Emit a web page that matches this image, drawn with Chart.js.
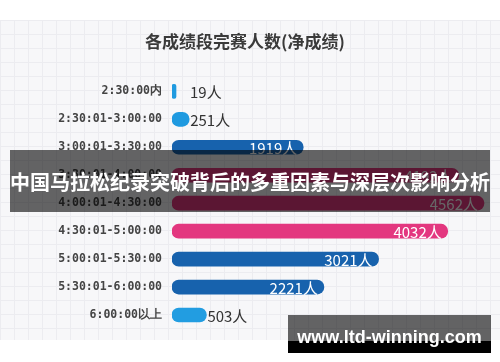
<!DOCTYPE html>
<html>
<head>
<meta charset="utf-8">
<script src="https://cdn.jsdelivr.net/npm/chart.js@4"></script>
<style>
  html, body { margin: 0; padding: 0; background: #fff; }
  #wrap { position: relative; width: 500px; height: 362px; overflow: hidden; }
  #paper {
    position: absolute; left: 0; top: 20px; width: 500px; height: 320px;
    background-color: #f7f7f9;
    background-image:
      linear-gradient(to right, #ececf0 1px, transparent 1px),
      linear-gradient(to bottom, #ececf0 1px, transparent 1px);
    background-size: 14px 14px;
  }
  canvas { position: absolute; left: 0; top: 0; }
  #banner {
    position: absolute; left: 10px; top: 150px; width: 480px; height: 62px;
    background: rgba(0, 0, 0, 0.6); color: #fff;
    font: bold 20px "Noto Sans CJK SC", sans-serif;
    display: flex; align-items: center; justify-content: center; white-space: nowrap;
  }
  #mark {
    position: absolute; left: 288px; top: 315px; width: 203px; height: 38px;
    background: linear-gradient(to bottom, rgba(0,0,0,0.6) 0, rgba(0,0,0,0.6) 26px, #000 26px);
    color: #fff; font: bold 18px "Liberation Sans", sans-serif; white-space: nowrap;
    display: flex; align-items: center; justify-content: center; padding-top: 6px; box-sizing: border-box;
  }
</style>
</head>
<body>
<div id="wrap">
  <div id="paper"></div>
  <canvas id="chart" width="500" height="362"></canvas>
  <div id="banner">中国马拉松纪录突破背后的多重因素与深层次影响分析</div>
  <div id="mark">www.ltd-winning.com</div>
</div>
<script>
const chartTitle = '各成绩段完赛人数(净成绩)';
const categories = [
  '2:30:00内',
  '2:30:01-3:00:00',
  '3:00:01-3:30:00',
  '3:30:01-4:00:00',
  '4:00:01-4:30:00',
  '4:30:01-5:00:00',
  '5:00:01-5:30:00',
  '5:30:01-6:00:00',
  '6:00:00以上'
];
const finishers = [19, 251, 1919, 4192, 4562, 4032, 3021, 2221, 503];
const barColors = ['#1f9ae0', '#1f9ae0', '#1762ad', '#e3377f', '#e3377f', '#e3377f', '#1762ad', '#1762ad', '#229de1'];
const unit = '人';

const valueLabels = {
  id: 'valueLabels',
  afterDatasetsDraw(chart) {
    const ctx = chart.ctx;
    const meta = chart.getDatasetMeta(0);
    ctx.save();
    ctx.font = '15px "Noto Sans CJK SC", sans-serif';
    ctx.textBaseline = 'middle';
    meta.data.forEach((bar, i) => {
      const text = finishers[i] + unit;
      const w = bar.x - bar.base;
      if (w < 60) {
        ctx.fillStyle = '#333';
        ctx.textAlign = 'left';
        ctx.fillText(text, Math.max(bar.x + 1, bar.base + 18), bar.y + 1);
      } else {
        ctx.fillStyle = '#fff';
        ctx.textAlign = 'right';
        ctx.fillText(text, bar.x - 6, bar.y + 1);
      }
    });
    ctx.restore();
  }
};

new Chart(document.getElementById('chart'), {
  type: 'bar',
  data: {
    labels: categories,
    datasets: [{
      data: finishers,
      backgroundColor: barColors,
      barThickness: 14,
      borderRadius: 7,
      borderSkipped: false,
      minBarLength: 4
    }]
  },
  options: {
    indexAxis: 'y',
    responsive: false,
    animation: false,
    layout: { padding: { left: 0, right: 10, bottom: 33 } },
    plugins: {
      legend: { display: false },
      tooltip: { enabled: false },
      title: {
        display: true,
        text: chartTitle,
        color: '#3a3a3a',
        font: { family: '"Noto Sans CJK SC", sans-serif', size: 17, weight: 'bold' },
        padding: { top: 31, bottom: 26 }
      }
    },
    scales: {
      x: { display: false, min: 0, max: 4650 },
      y: {
        grid: { display: false, drawTicks: false },
        border: { display: false },
        afterFit(scale) { scale.width = 172; },
        ticks: {
          padding: 10,
          color: '#444',
          font: { family: '"DejaVu Sans Mono", monospace', size: 11.5, weight: 'bold' }
        }
      }
    }
  },
  plugins: [valueLabels]
});
</script>
</body>
</html>
